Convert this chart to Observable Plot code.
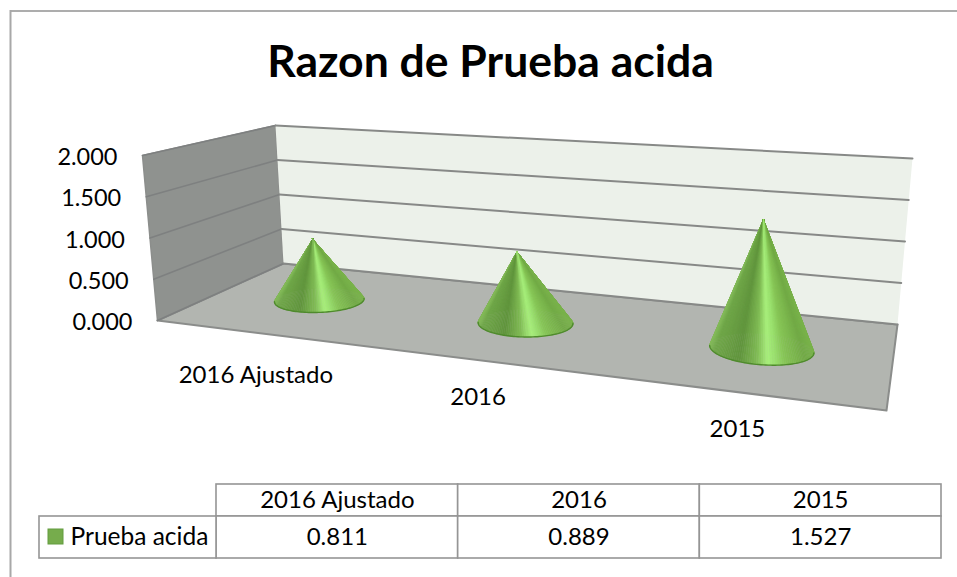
<!DOCTYPE html>
<html lang="es">
<head>
<meta charset="utf-8">
<title>Razon de Prueba acida</title>
<style>html,body{margin:0;padding:0;background:#fff}svg{display:block}</style>
<script src="https://cdn.jsdelivr.net/npm/d3@7"></script>
<script src="https://cdn.jsdelivr.net/npm/@observablehq/plot@0.6"></script>
</head>
<body>
<div id="chart"></div>
<script>
// ---- data ----
const titleText = "Razon de Prueba acida";
const seriesName = "Prueba acida";
const categories = ["2016 Ajustado", "2016", "2015"];
const values = [0.811, 0.889, 1.527];
const valueTicks = [0, 0.5, 1, 1.5, 2];

// ---- camera: where the chart box's corners land on the page ----
const FONT = "Lato, Carlito, sans-serif";
const floorQuad = {fl:[157,320], fr:[886,410], br:[897,324], bl:[283,263]};
const topQuad   = {fl:[142,155], fr:[934,215], br:[912,158], bl:[275,125]};
const depthOfCones = 0.5, radiusU = 0.068, radiusV = 0.19, coneHeightFactor = 0.96;

function homography({fl, fr, br, bl}) {
  const [x0,y0]=fl,[x1,y1]=fr,[x2,y2]=br,[x3,y3]=bl;
  const dx1=x1-x2, dx2=x3-x2, sx=x0-x1+x2-x3, dy1=y1-y2, dy2=y3-y2, sy=y0-y1+y2-y3;
  const den=dx1*dy2-dx2*dy1;
  const g=(sx*dy2-dx2*sy)/den, h=(dx1*sy-sx*dy1)/den;
  const a=x1-x0+g*x1, b=x3-x0+h*x3, d=y1-y0+g*y1, e=y3-y0+h*y3;
  return (u,v)=>{const w=g*u+h*v+1; return [(a*u+b*v+x0)/w,(d*u+e*v+y0)/w];};
}
const floorH = homography(floorQuad), topH = homography(topQuad);

// library scales: category -> across the box, value -> up the box
const uScale = Plot.scale({x:{type:"band", domain:categories, range:[0,1], padding:0}});
const wScale = Plot.scale({y:{type:"linear", domain:[0,2], range:[0,1]}});
const uOf = c => uScale.apply(c) + uScale.bandwidth/2;
function project(u, v, value) {
  const t = wScale.apply(value), a = floorH(u,v), b = topH(u,v);
  return [a[0]+(b[0]-a[0])*t, a[1]+(b[1]-a[1])*t];
}
const pt = (u,v,val)=>{const [x,y]=project(u,v,val); return {x,y};};

// ---- walls and floor ----
const maxV = valueTicks[valueTicks.length-1];
const leftWall  = [pt(0,0,0),pt(0,1,0),pt(0,1,maxV),pt(0,0,maxV)];
const backWall  = [pt(0,1,0),pt(1,1,0),pt(1,1,maxV),pt(0,1,maxV)];
const floorFace = [pt(0,0,0),pt(1,0,0),pt(1,1,0),pt(0,1,0)];
const backGrid = valueTicks.flatMap((t,i)=>[{...pt(0,1,t),g:i},{...pt(1,1,t),g:i}]);
const sideGrid = valueTicks.flatMap((t,i)=>[{...pt(0,0,t),g:i},{...pt(0,1,t),g:i}]);

// ---- cones ----
const shade = d3.scaleLinear()
  .domain([0,0.04,0.28,0.45,0.56,0.62,0.72,0.92,1])
  .range(["#84ba5a","#70a749","#61953d","#7fba54","#a9f07c","#9be26f","#86c556","#72aa46","#7ab34c"]);
const slices = [], rims = [];
categories.forEach((c,k)=>{
  const u0 = uOf(c), tip = pt(u0, depthOfCones, values[k]*coneHeightFactor);
  const ring = d3.range(0,144).map(i=>{
    const a = i/144*2*Math.PI;
    return pt(u0+radiusU*Math.cos(a), depthOfCones+radiusV*Math.sin(a), 0);
  });
  const [x0,x1] = d3.extent(ring,d=>d.x);
  const segs = ring.map((p,i)=>({p,q:ring[(i+1)%ring.length]}));
  segs.sort((a,b)=>(a.p.y+a.q.y)-(b.p.y+b.q.y));
  segs.forEach(({p,q},i)=>{
    const id=`${k}-${i}`, fill=shade(((p.x+q.x)/2-x0)/(x1-x0));
    slices.push({...tip,id,fill},{x:p.x,y:p.y,id,fill},{x:q.x,y:q.y,id,fill});
  });
  // front (lower) half of the base
  const l = ring.findIndex(d=>d.x===x0), r = ring.findIndex(d=>d.x===x1);
  for (let i=l;;i=(i+1)%ring.length){ rims.push({...ring[i],k}); if(i===r)break; }
});

// ---- tick and category labels ----
const yLabels = valueTicks.map(t=>({...pt(0,0,t),label:t.toFixed(3)}));
const catLabelOffset = [[-2,42],[-3,37],[-3,37]];
const xLabels = categories.map((c,k)=>{
  const p=pt(uOf(c),0,0); return {x:p.x+catLabelOffset[k][0],y:p.y+catLabelOffset[k][1],label:c};
});

// ---- data table ----
const colScale = Plot.scale({x:{type:"band", domain:categories, range:[216,941], padding:0}});
const tableY = [484,516,558];
const cells = categories.flatMap((c,k)=>{
  const x1=colScale.apply(c), x2=x1+colScale.bandwidth;
  return [{x1,x2,y1:tableY[0],y2:tableY[1],label:c},
          {x1,x2,y1:tableY[1],y2:tableY[2],label:values[k].toFixed(3)}];
});

const wallEdge = {curve:"linear-closed", stroke:"#8b8d8b", strokeWidth:2};
const chart = Plot.plot({
  width:957, height:577, margin:0,
  style:{background:"#fff", fontFamily:FONT},
  x:{type:"identity", axis:null}, y:{type:"identity", axis:null},
  color:{type:"identity"},
  marks:[
    // chart-area frame
    Plot.ruleY([10.5],{x1:10,x2:957,stroke:"#adadad",strokeWidth:2}),
    Plot.ruleX([10],{y1:10,y2:577,stroke:"#a8a8a8",strokeWidth:2}),
    Plot.text([titleText],{x:()=>490,y:()=>62,text:d=>d,fontSize:44.5,fontWeight:"bold",fontFamily:FONT,fill:"#000"}),
    // box
    Plot.line(floorFace,{x:"x",y:"y",fill:"#b2b5b0",...wallEdge}),
    Plot.line(leftWall,{x:"x",y:"y",fill:"#8f928f",curve:"linear-closed",stroke:"#8c8e8c",strokeWidth:1.5}),
    Plot.line(backWall,{x:"x",y:"y",fill:"#ecf1ea",curve:"linear-closed",stroke:"none"}),
    Plot.line(sideGrid,{x:"x",y:"y",z:"g",stroke:"#7e8080",strokeWidth:1.6}),
    Plot.line(backGrid,{x:"x",y:"y",z:"g",stroke:"#878987",strokeWidth:2}),
    // cones
    Plot.line(slices,{x:"x",y:"y",z:"id",fill:"fill",stroke:"fill",strokeWidth:0.5,curve:"linear-closed"}),
    Plot.line(rims,{x:"x",y:"y",z:"k",stroke:"#4f8a2d",strokeWidth:1.4}),
    // labels
    Plot.text(yLabels,{x:"x",y:"y",dx:-25,dy:2,text:"label",textAnchor:"end",fontSize:23.5,fontFamily:FONT,fill:"#000"}),
    Plot.text(xLabels,{x:"x",y:"y",text:"label",fontSize:24,fontFamily:FONT,fill:"#000"}),
    // table
    Plot.rect(cells,{x1:"x1",x2:"x2",y1:"y1",y2:"y2",fill:"#fff",stroke:"#959595",strokeWidth:1.6}),
    Plot.rect([seriesName],{x1:()=>39,x2:()=>216,y1:()=>tableY[1],y2:()=>tableY[2],fill:"#fff",stroke:"#959595",strokeWidth:1.6}),
    Plot.text(cells,{x:d=>(d.x1+d.x2)/2,y:d=>(d.y1+d.y2)/2,text:"label",fontSize:24,fontFamily:FONT,fill:"#000"}),
    Plot.rect([seriesName],{x1:()=>48,x2:()=>63,y1:()=>529,y2:()=>544,fill:"#76ac4c",stroke:"#639c3f",strokeWidth:1}),
    Plot.text([seriesName],{x:()=>70,y:()=>537,text:d=>d,textAnchor:"start",fontSize:24.5,fontFamily:FONT,fill:"#000"})
  ]
});
document.getElementById("chart").append(chart);
</script>
</body>
</html>
